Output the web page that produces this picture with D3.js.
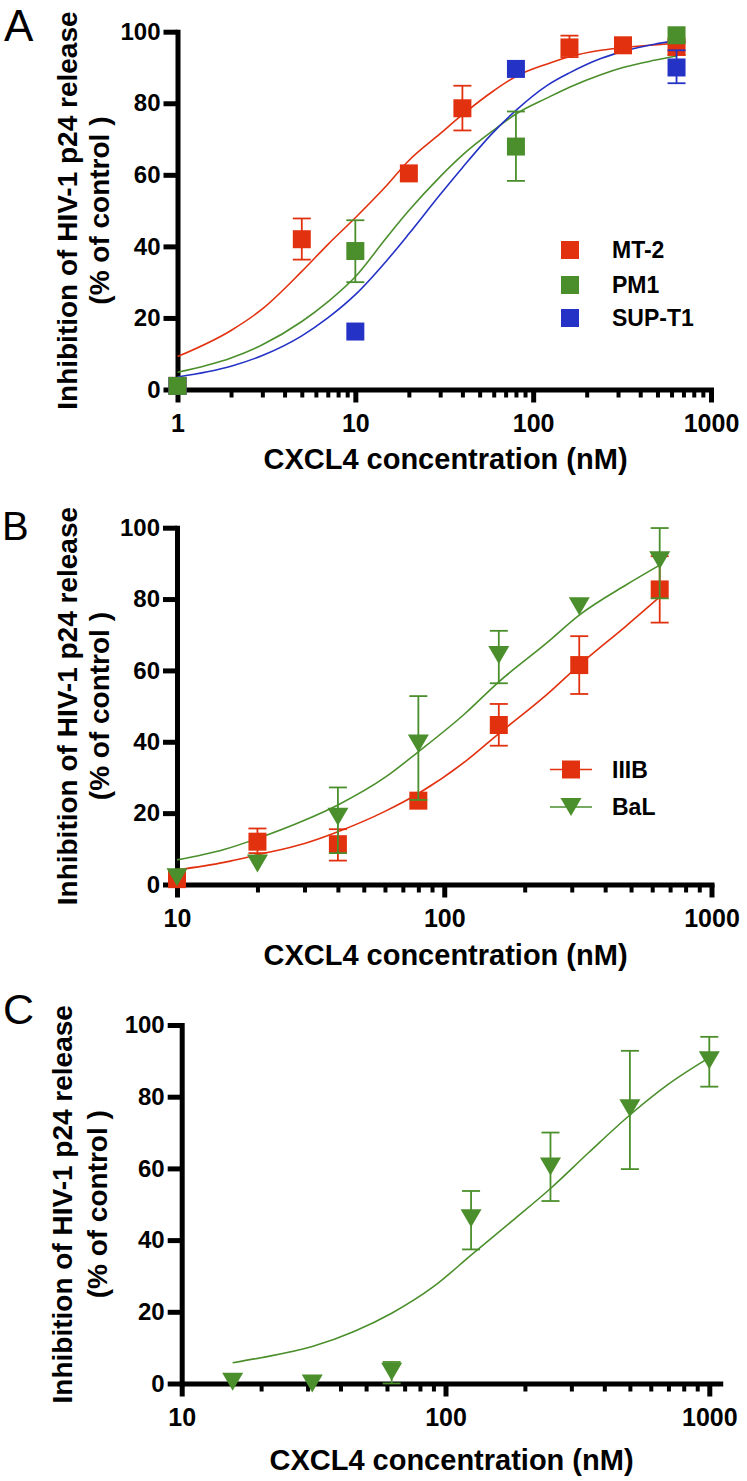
<!DOCTYPE html>
<html><head><meta charset="utf-8">
<script src="https://cdn.jsdelivr.net/npm/d3@7"></script>
<style>body{margin:0;background:#fff}</style>
</head><body>
<svg id="chart" width="747" height="1481"></svg>
<script>
// ---------- shared ticks ----------
const yTicks = [0, 20, 40, 60, 80, 100];
const aMajorX = [1, 10, 100, 1000];
const aMinorX = [2,3,4,5,6,7,8,9,20,30,40,50,60,70,80,90,200,300,400,500,600,700,800,900];
const bcMajorX = [10, 100, 1000];
const bcMinorX = [20,30,40,50,60,70,80,90,200,300,400,500,600,700,800,900];

// ---------- Panel A data ----------
const mt2X  = [1, 5, 20, 40, 160, 320, 640];
const mt2Y  = [1, 42.0, 60.4, 78.6, 95.6, 96.2, 95.8];
const mt2Hi = [null, 47.8, null, 84.9, 98.9, null, 97.2];
const mt2Lo = [null, 36.3, null, 72.4, 92.9, null, 93.5];
const pm1X  = [1, 10, 80, 640];
const pm1Y  = [1, 38.7, 67.9, 99.0];
const pm1Hi = [null, 47.3, 77.7, null];
const pm1Lo = [null, 30.0, 58.3, null];
const supX  = [1, 10, 80, 640];
const supY  = [1, 16.2, 89.6, 90.0];
const supHi = [null, null, null, 94.8];
const supLo = [null, null, null, 85.6];
const fitAX    = [1, 2, 3, 5, 7, 10, 15, 20, 30, 40, 60, 80, 120, 160, 240, 320, 480, 640];
const mt2FitY  = [9.2, 16.5, 22.5, 33, 40.5, 48, 57, 64, 71.5, 76.8, 83.5, 87.5, 91, 93, 94.8, 95.6, 96.3, 96.8];
const pm1FitY  = [4.8, 8.8, 12.5, 19, 24.5, 31.5, 42.5, 50, 59.5, 65.5, 72.5, 77, 81.5, 84.5, 88, 90, 92, 93.2];
const supFitY  = [3.5, 6.5, 9.5, 15, 20, 26.5, 36, 43.5, 54.5, 62, 72, 78, 85, 88.5, 92.5, 94.5, 96.5, 97.5];

// ---------- Panel B data ----------
const bX     = [10, 20, 40, 80, 160, 320, 640];
const iiibY  = [1.5, 12.0, 11.3, 23.5, 44.7, 61.5, 82.7];
const iiibHi = [null, 15.7, 15.5, null, 50.6, 69.6, 92.0];
const iiibLo = [null, 8.8, 6.7, null, 38.9, 53.4, 73.4];
const balY   = [2.0, 5.9, 19.0, 39.5, 64.3, 78.0, 90.9];
const balHi  = [null, null, 27.2, 52.8, 71.1, null, 99.9];
const balLo  = [null, null, 8.8, 23.7, 56.4, null, 80.2];
const fitBX    = [10, 15, 20, 30, 40, 60, 80, 120, 160, 240, 320, 480, 640];
const iiibFitY = [4.1, 6.2, 8.3, 11.5, 14.8, 20.5, 25.5, 34.5, 42.3, 53, 61.5, 72.5, 80.6];
const balFitY  = [6.9, 9.8, 12.9, 18, 22.3, 30, 37.2, 48, 56.8, 67.5, 75.5, 84, 89.5];

// ---------- Panel C data ----------
const cX  = [15.6, 31.25, 62.5, 125, 250, 500, 1000];
const cY  = [0.5, 0, 3.3, 46.1, 60.5, 76.8, 90.2];
const cHi = [null, null, 6.0, 53.7, 70.0, 92.8, 96.7];
const cLo = [null, null, 0, 37.4, 50.9, 59.8, 82.8];
const fitCX = [15.6, 20, 31.25, 45, 62.5, 90, 125, 180, 250, 350, 500, 700, 1000];
const fitCY = [5.8, 7.2, 10.3, 14.5, 19.6, 27, 35.8, 45.5, 54.4, 64.5, 74.9, 83.5, 90.9];

// ---------- labels ----------
const yTitle1 = "Inhibition of HIV-1 p24 release";
const yTitle2 = "(% of control )";
const xTitle = "CXCL4 concentration (nM)";

const FONT = '"Liberation Sans", Arial, Helvetica, sans-serif';
const RED = "#e2310f", GREEN = "#4b8f2c", BLUE = "#2432c6";
const svg = d3.select("#chart");

const squarePath = "M-9,-9H9V9H-9Z";
const triPath = "M-10.5,-9L10.5,-9L0,9Z";

function series(xs, ys, his, los) {
  return xs.map((d, i) => ({x: d, y: ys[i], hi: his[i], lo: los[i]}));
}
function fit(xs, ys) { return xs.map((d, i) => ({x: d, y: ys[i]})); }

function drawPanel(cfg) {
  const x = d3.scaleLog().domain(cfg.xDomain).range(cfg.xRange);
  const y = d3.scaleLinear().domain([0, 100]).range(cfg.yRange);
  const x0 = x(cfg.xDomain[0]);
  const axisX = x.copy().domain([cfg.xDomain[0], cfg.xAxisEnd]).range([x0, x(cfg.xAxisEnd)]);
  const g = svg.append("g");

  // panel letter
  g.append("text").attr("x", cfg.letterX).attr("y", cfg.letterY)
    .attr("font-family", FONT).attr("font-size", cfg.letterSize).text(cfg.letter);

  // y axis
  const ya = g.append("g").attr("transform", `translate(${x0},0)`)
    .call(d3.axisLeft(y).tickValues(yTicks).tickSize(14).tickSizeOuter(0).tickPadding(3).tickFormat(d3.format("d")));
  ya.attr("font-family", FONT).attr("font-size", 24).attr("font-weight", "bold");
  ya.select(".domain").attr("stroke-width", 5).attr("stroke-linecap", "square");
  ya.selectAll(".tick line").attr("stroke-width", 5);
  ya.selectAll(".tick text").attr("fill", "#000");

  // x axis minor
  const xm = g.append("g").attr("transform", `translate(0,${y(0)})`)
    .call(d3.axisBottom(axisX).tickValues(cfg.minor).tickSize(8).tickFormat(""));
  xm.select(".domain").remove();
  xm.selectAll(".tick line").attr("stroke-width", 4);
  // x axis major
  const xa = g.append("g").attr("transform", `translate(0,${y(0)})`)
    .call(d3.axisBottom(axisX).tickValues(cfg.major).tickSize(13).tickSizeOuter(0).tickPadding(12).tickFormat(d => d));
  xa.attr("font-family", FONT).attr("font-size", 25).attr("font-weight", "bold");
  xa.select(".domain").attr("stroke-width", 5).attr("stroke-linecap", "square");
  xa.selectAll(".tick line").attr("stroke-width", 5);
  xa.selectAll(".tick text").attr("fill", "#000");

  // titles
  g.append("text").attr("x", cfg.xTitleX).attr("y", cfg.xTitleY).attr("text-anchor", "middle")
    .attr("font-family", FONT).attr("font-size", 29).attr("font-weight", "bold").text(xTitle);
  const yc = (y(0) + y(100)) / 2;
  g.append("text").attr("transform", `translate(${cfg.yTitleX1},${yc}) rotate(-90)`).attr("text-anchor", "middle")
    .attr("font-family", FONT).attr("font-size", 28).attr("font-weight", "bold").text(yTitle1);
  g.append("text").attr("transform", `translate(${cfg.yTitleX2},${yc}) rotate(-90)`).attr("text-anchor", "middle")
    .attr("font-family", FONT).attr("font-size", 28).attr("font-weight", "bold").text(yTitle2);

  // fit curves
  const line = d3.line().x(d => x(d.x)).y(d => y(d.y)).curve(d3.curveMonotoneX);
  cfg.fits.forEach(f => {
    g.append("path").attr("d", line(f.data)).attr("fill", "none")
      .attr("stroke", f.color).attr("stroke-width", 1.6);
  });

  // points + error bars
  cfg.series.forEach(s => {
    const sg = g.append("g");
    const eb = s.data.filter(d => d.hi != null || d.lo != null);
    eb.forEach(d => {
      const top = d.hi != null ? d.hi : d.y, bot = d.lo != null ? d.lo : d.y;
      sg.append("line").attr("x1", x(d.x)).attr("x2", x(d.x)).attr("y1", y(top)).attr("y2", y(bot))
        .attr("stroke", s.color).attr("stroke-width", 1.8);
      if (d.hi != null) sg.append("line").attr("x1", x(d.x) - 9).attr("x2", x(d.x) + 9)
        .attr("y1", y(d.hi)).attr("y2", y(d.hi)).attr("stroke", s.color).attr("stroke-width", 1.8);
      if (d.lo != null) sg.append("line").attr("x1", x(d.x) - 9).attr("x2", x(d.x) + 9)
        .attr("y1", y(d.lo)).attr("y2", y(d.lo)).attr("stroke", s.color).attr("stroke-width", 1.8);
    });
    sg.selectAll("path.mk").data(s.data).join("path").attr("class", "mk")
      .attr("d", s.shape).attr("fill", s.color)
      .attr("transform", d => `translate(${x(d.x)},${y(d.y)})`);
  });

  // legend
  if (cfg.legend) {
    cfg.legend.items.forEach((it, i) => {
      const ly = cfg.legend.y[i];
      if (cfg.legend.withLine) {
        g.append("line").attr("x1", cfg.legend.x - 21).attr("x2", cfg.legend.x + 21)
          .attr("y1", ly).attr("y2", ly).attr("stroke", it.color).attr("stroke-width", 1.6);
      }
      g.append("path").attr("d", it.shape).attr("fill", it.color).attr("transform", `translate(${cfg.legend.x},${ly})`);
      g.append("text").attr("x", cfg.legend.tx).attr("y", ly + 8).attr("font-family", FONT)
        .attr("font-size", 23).attr("font-weight", "bold").text(it.label);
    });
  }
}

// Panel A
drawPanel({
  letter: "A", letterX: 4, letterY: 41, letterSize: 44,
  xDomain: [1, 1000], xRange: [177.5, 711], xAxisEnd: 1000, yRange: [389.5, 31.7],
  major: aMajorX, minor: aMinorX,
  xTitleX: 445.5, xTitleY: 469, yTitleX1: 77, yTitleX2: 109,
  fits: [
    {color: RED, data: fit(fitAX, mt2FitY)},
    {color: GREEN, data: fit(fitAX, pm1FitY)},
    {color: BLUE, data: fit(fitAX, supFitY)}
  ],
  series: [
    {color: RED, shape: squarePath, data: series(mt2X, mt2Y, mt2Hi, mt2Lo)},
    {color: BLUE, shape: squarePath, data: series(supX, supY, supHi, supLo)},
    {color: GREEN, shape: squarePath, data: series(pm1X, pm1Y, pm1Hi, pm1Lo)}
  ],
  legend: {x: 570, tx: 612, y: [250, 285, 318], withLine: false,
    items: [{label: "MT-2", color: RED, shape: squarePath},
            {label: "PM1", color: GREEN, shape: squarePath},
            {label: "SUP-T1", color: BLUE, shape: squarePath}]}
});

// Panel B
drawPanel({
  letter: "B", letterX: 2, letterY: 540, letterSize: 40,
  xDomain: [10, 1000], xRange: [177, 711.5], xAxisEnd: 1000, yRange: [884.5, 527.7],
  major: bcMajorX, minor: bcMinorX,
  xTitleX: 445.5, xTitleY: 965, yTitleX1: 77, yTitleX2: 109,
  fits: [
    {color: RED, data: fit(fitBX, iiibFitY)},
    {color: GREEN, data: fit(fitBX, balFitY)}
  ],
  series: [
    {color: RED, shape: squarePath, data: series(bX, iiibY, iiibHi, iiibLo)},
    {color: GREEN, shape: triPath, data: series(bX, balY, balHi, balLo)}
  ],
  legend: {x: 571, tx: 612, y: [769.5, 807], withLine: true,
    items: [{label: "IIIB", color: RED, shape: squarePath},
            {label: "BaL", color: GREEN, shape: triPath}]}
});

// Panel C
drawPanel({
  letter: "C", letterX: 3, letterY: 1024, letterSize: 43,
  xDomain: [10, 1000], xRange: [181.7, 709.3], xAxisEnd: 1100, yRange: [1383.5, 1025],
  major: bcMajorX, minor: bcMinorX,
  xTitleX: 451.5, xTitleY: 1470, yTitleX1: 72, yTitleX2: 107,
  fits: [{color: GREEN, data: fit(fitCX, fitCY)}],
  series: [{color: GREEN, shape: triPath, data: series(cX, cY, cHi, cLo)}],
  legend: null
});
</script>
</body></html>
